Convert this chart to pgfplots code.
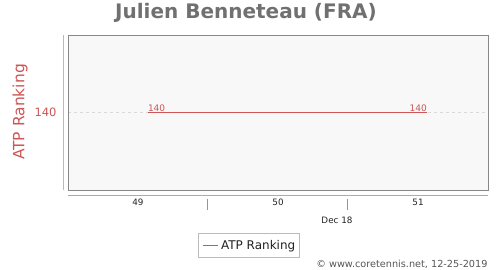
\documentclass[border=0pt]{standalone}
\usepackage{pgfplots}
\pgfplotsset{compat=1.18}
\usepackage{fontspec}
\setmainfont{DejaVu Sans}
\definecolor{rk}{HTML}{CC5555}
\definecolor{ttl}{HTML}{707070}
\definecolor{axred}{HTML}{DDAAAA}
\definecolor{bg}{HTML}{F8F8F8}
\definecolor{frame}{HTML}{888888}
\definecolor{axg}{HTML}{AAAAAA}
\definecolor{tickg}{HTML}{969696}
\definecolor{txt}{HTML}{222222}
\definecolor{legb}{HTML}{BBBBBB}
\definecolor{copy}{HTML}{555555}
\begin{document}
\begin{tikzpicture}
\useasboundingbox (0pt,0pt) rectangle (500pt,270pt);
\begin{scope}[x=1pt,y=1pt]
\draw[legb, line width=0.8pt, fill=white] (198,13) rectangle (299,37);
\end{scope}
\begin{axis}[
  at={(68pt,80pt)}, anchor=south west,
  width=420pt, height=155pt, scale only axis,
  xmin=48.5, xmax=51.5, ymin=139, ymax=141,
  axis background/.style={fill=bg},
  axis line style={draw=frame},
  /pgf/number format/assume math mode=true,
  xtick={49,50,51}, major tick length=0pt,
  xticklabel style={font=\fontsize{8.8}{10}\selectfont, text=txt, anchor=base, yshift=-16pt},
  ytick={140},
  yticklabel style={font=\fontsize{11.5}{14}\selectfont, text=rk, anchor=east, xshift=-8pt},
  ymajorgrids, grid style={dashed, gray!30},
  legend style={at={(0.4333,-0.358)}, anchor=center, draw=none, fill=none,
    font=\fontsize{12}{13}\selectfont\color{txt}, inner sep=1.5pt},
  legend cell align=left,
  clip=false,
]
\addplot[rk, line width=1.2pt,
  legend image code/.code={\draw[draw=rk, line width=1.4pt] (0pt,0pt) -- (15pt,0pt);}]
  coordinates {(49.07,140) (51.064,140)};
\addlegendentry{ATP Ranking}
\addplot[draw=none, forget plot, nodes near coords, point meta=explicit symbolic,
  nodes near coords style={anchor=south west, font=\fontsize{9}{10}\selectfont, text=rk, inner sep=1pt, xshift=-1pt}]
  coordinates {(49.07,140) [140]};
\addplot[draw=none, forget plot, nodes near coords, point meta=explicit symbolic,
  nodes near coords style={anchor=south east, font=\fontsize{9}{10}\selectfont, text=rk, inner sep=1pt, xshift=1pt}]
  coordinates {(51.064,140) [140]};
\end{axis}
\begin{scope}[x=1pt,y=1pt]
\draw[axred, line width=0.8pt] (63,80) -- (63,235);
\draw[axg, line width=0.8pt] (68,75) -- (488,75);
\draw[tickg, line width=0.8pt] (207,71) -- (207,60);
\draw[tickg, line width=0.8pt] (347,71) -- (347,60);
\node[font=\fontsize{8.8}{10}\selectfont, text=txt] at (337,50) {Dec 18};
\node[font=\fontsize{20}{22}\selectfont\bfseries, text=ttl] at (246,257) {Julien Benneteau (FRA)};
\node[rotate=90, font=\fontsize{15.5}{17}\selectfont, text=rk] at (20,158) {ATP Ranking};
\node[anchor=east, font=\fontsize{9.7}{11}\selectfont, text=copy] at (491,6) {© www.coretennis.net, 12-25-2019};
\end{scope}
\end{tikzpicture}
\end{document}
